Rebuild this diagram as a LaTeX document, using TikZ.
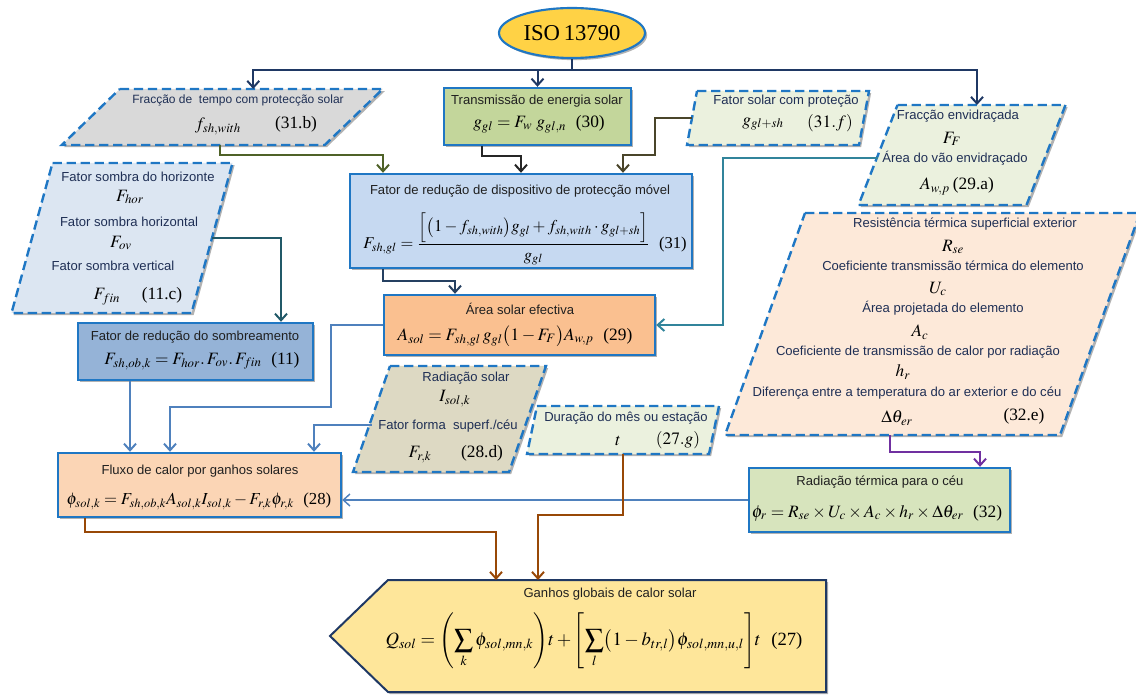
\documentclass[tikz,border=0pt]{standalone}
\usepackage{amsmath}
\usepackage{mathptmx}
\usepackage[no-math]{fontspec}
\setmainfont{Liberation Serif}
\setsansfont{Liberation Sans}
\usetikzlibrary{arrows.meta,shadows,shapes.geometric}

\definecolor{navyc}{HTML}{1F3864}
\definecolor{bdblue}{HTML}{1F77C4}
\definecolor{isofill}{HTML}{FFD245}
\definecolor{grayfill}{HTML}{D9D9D9}
\definecolor{greenfill}{HTML}{C3D69B}
\definecolor{palegreen}{HTML}{EBF1DE}
\definecolor{horfill}{HTML}{DCE6F2}
\definecolor{fatorfill}{HTML}{C6D9F1}
\definecolor{areafill}{HTML}{FAC090}
\definecolor{sombfill}{HTML}{95B3D7}
\definecolor{resfill}{HTML}{FDE9D9}
\definecolor{rsolfill}{HTML}{DDD9C3}
\definecolor{fluxfill}{HTML}{FBD5B5}
\definecolor{radtfill}{HTML}{D7E4BD}
\definecolor{botfill}{HTML}{FEE69A}
\definecolor{oliveline}{HTML}{4F6228}
\definecolor{darkline}{HTML}{262626}
\definecolor{khakiline}{HTML}{4A452A}
\definecolor{fatorline}{HTML}{254061}
\definecolor{tealline}{HTML}{31849B}
\definecolor{hortline}{HTML}{215968}
\definecolor{blueline}{HTML}{4F81BD}
\definecolor{purpleline}{HTML}{7030A0}
\definecolor{brownline}{HTML}{984807}
\definecolor{lblnavy}{HTML}{1F2F55}
\definecolor{lbldark}{HTML}{202020}

\tikzset{
  shadowed/.style={drop shadow={shadow xshift=1.6pt,shadow yshift=-1.6pt,opacity=.3,fill=black}},
  boxnode/.style={rectangle,draw=bdblue,line width=1.8pt,inner sep=0pt,shadowed},
  pgnode/.style={rectangle,inner sep=0pt,outer sep=0pt,draw=none},
  pgshape/.style={draw=bdblue,line width=1.8pt,dash pattern=on 7pt off 3.5pt,shadowed},
  lbl/.style={font=\sffamily\fontsize{9.8}{11}\selectfont,text=lblnavy,inner sep=0pt},
  lbld/.style={lbl,text=lbldark},
  eq/.style={font=\rmfamily\fontsize{13}{15}\selectfont,inner sep=0pt},
  conn/.style={line width=1.5pt},
  arr/.style={-{Straight Barb[length=5pt,width=9pt]}},
}

\newcommand\pgdraw[3]{%
  \path[pgshape,fill=#3]
   ([xshift=#2*0.75pt]#1.north west) -- ([xshift=#2*0.75pt]#1.north east)
   -- ([xshift=-#2*0.75pt]#1.south east) -- ([xshift=-#2*0.75pt]#1.south west) -- cycle;}

\begin{document}
\begin{tikzpicture}[x=0.75pt,y=-0.75pt]
\useasboundingbox (0,0) rectangle (1136,695);
\clip (0,0) rectangle (1136,695);

% ---------- shapes ----------
\node[ellipse,draw=bdblue,line width=1.6pt,fill=isofill,minimum width=146*.75pt,minimum height=50*.75pt,
      inner sep=0pt,shadowed,font=\rmfamily\fontsize{17}{19}\selectfont] (iso) at (572,33) {ISO\,13790};

\node[pgnode,minimum width=263*.75pt,minimum height=56*.75pt] (tempo) at (222.25,117) {};
\pgdraw{tempo}{29}{grayfill}
\node[boxnode,fill=greenfill,minimum width=187*.75pt,minimum height=57*.75pt] (trans) at (537.5,116.5) {};
\node[pgnode,minimum width=172*.75pt,minimum height=54*.75pt] (fsol) at (778,118) {};
\pgdraw{fsol}{5}{palegreen}
\node[pgnode,minimum width=168*.75pt,minimum height=100*.75pt] (fenv) at (962,155) {};
\pgdraw{fenv}{19.5}{palegreen}
\node[pgnode,minimum width=180*.75pt,minimum height=150*.75pt] (hor) at (122,238) {};
\pgdraw{hor}{20.5}{horfill}
\node[boxnode,fill=fatorfill,minimum width=342*.75pt,minimum height=94*.75pt] (fator) at (521,221) {};
\node[boxnode,fill=areafill,minimum width=271*.75pt,minimum height=60*.75pt] (area) at (519.5,325) {};
\node[boxnode,fill=sombfill,minimum width=235*.75pt,minimum height=57*.75pt] (somb) at (195.5,351.5) {};
\node[pgnode,minimum width=335*.75pt,minimum height=222*.75pt] (res) at (932.5,324) {};
\pgdraw{res}{40}{resfill}
\node[pgnode,minimum width=156*.75pt,minimum height=106*.75pt] (rsol) at (449.5,419) {};
\pgdraw{rsol}{18.5}{rsolfill}
\node[pgnode,minimum width=182*.75pt,minimum height=48*.75pt] (dur) at (623,430) {};
\pgdraw{dur}{5}{palegreen}
\node[boxnode,fill=fluxfill,minimum width=283*.75pt,minimum height=64*.75pt] (flux) at (199.5,485) {};
\node[boxnode,fill=radtfill,minimum width=261*.75pt,minimum height=64*.75pt] (radt) at (879.5,500) {};
\node[pgnode,minimum width=438*.75pt,minimum height=112*.75pt] (bot) at (607,636) {};
\coordinate (tip) at (330,636);
\path[draw=navyc,line width=1.5pt,fill=botfill,shadowed]
  (bot.north west) -- (bot.north east) -- (bot.south east) -- (bot.south west) -- (tip) -- cycle;

% ---------- texts ----------
\node[lbl,font=\sffamily\fontsize{9}{10}\selectfont] (tempo-a) at (238,100) {Fracção de\ \ tempo com protecção solar};
\node[eq] (tempo-b) at (218,126) {$f_{sh,with}$};
\node[eq] (tempo-c) at (296,124) {(31.b)};

\node[lbld] (trans-a) at (537,101) {Transmissão de energia solar};
\node[eq] (trans-b) at (539,124) {$g_{gl}=F_w\;g_{gl,n}$\;\;(30)};

\node[lbl] (fsol-a) at (786,101) {Fator solar com proteção};
\node[eq] (fsol-b) at (763,124) {$g_{gl+sh}$};
\node[eq] (fsol-c) at (830,123) {$(31.f)$};

\node[lbl] (fenv-a) at (958,116) {Fracção envidraçada};
\node[eq] (fenv-b) at (952,139) {$F_F$};
\node[lbl] (fenv-c) at (955,158) {Área do vão envidraçado};
\node[eq] (fenv-d) at (957,186) {$A_{w,p}$\,(29.a)};

\node[lbl] (hor-a) at (138,177) {Fator sombra do horizonte};
\node[eq] (hor-b) at (130,197) {$F_{hor}$};
\node[lbl] (hor-c) at (129,222) {Fator sombra horizontal};
\node[eq] (hor-d) at (121,243) {$F_{ov}$};
\node[lbl] (hor-e) at (113,266) {Fator sombra vertical};
\node[eq] (hor-f) at (107,297) {$F_{fin}$};
\node[eq] (hor-g) at (162,295) {(11.c)};

\node[lbld] (fator-a) at (520,191) {Fator de redução de dispositivo de protecção móvel};
\node[eq,font=\rmfamily\fontsize{12.4}{14}\selectfont] (fator-b) at (525,239) {$F_{sh,gl}=\dfrac{\Bigl[\bigl(1-f_{sh,with}\bigr)g_{gl}+f_{sh,with}\cdot g_{gl+sh}\Bigr]}{g_{gl}}$\;\;(31)};

\node[lbld] (area-a) at (520,309) {Área solar efectiva};
\node[eq] (area-b) at (515,336) {$A_{sol}=F_{sh,gl}\,g_{gl}\bigl(1-F_F\bigr)A_{w,p}$\;\;(29)};

\node[lbld] (somb-a) at (195,337) {Fator de redução do sombreamento};
\node[eq] (somb-b) at (202,361) {$F_{sh,ob,k}=F_{hor}.\,F_{ov}.\,F_{fin}$\;\;(11)};

\node[lbl] (res-a) at (965,224) {Resistência térmica superficial exterior};
\node[eq] (res-b) at (953,247) {$R_{se}$};
\node[lbl] (res-c) at (953,266) {Coeficiente transmissão térmica do elemento};
\node[eq] (res-d) at (938,289) {$U_c$};
\node[lbl] (res-e) at (943,308) {Área projetada do elemento};
\node[eq] (res-f) at (920,332) {$A_c$};
\node[lbl] (res-g) at (918,352) {Coeficiente de transmissão de calor por radiação};
\node[eq] (res-h) at (903,372) {$h_r$};
\node[lbl] (res-i) at (907,393) {Diferença entre a temperatura do ar exterior e do céu};
\node[eq] (res-j) at (897,418) {$\Delta\theta_{er}$};
\node[eq] (res-k) at (1024,416) {(32.e)};

\node[lbl] (rsol-a) at (466,378) {Radiação solar};
\node[eq] (rsol-b) at (455,399) {$I_{sol,k}$};
\node[lbl] (rsol-c) at (448,426) {Fator forma\ \ superf./céu};
\node[eq] (rsol-d) at (420,455) {$F_{r,k}$};
\node[eq] (rsol-e) at (482,453) {(28.d)};

\node[lbl] (dur-a) at (626,418) {Duração do mês ou estação};
\node[eq] (dur-b) at (618,441) {$t$};
\node[eq] (dur-c) at (678,440) {$(27.g)$};

\node[lbld] (flux-a) at (200,471) {Fluxo de calor por ganhos solares};
\node[eq,font=\rmfamily\fontsize{12.6}{14}\selectfont] (flux-b) at (199,501) {$\phi_{sol,k}=F_{sh,ob,k}A_{sol,k}I_{sol,k}-F_{r,k}\phi_{r,k}$\;\;(28)};

\node[lbld] (radt-a) at (880,482) {Radiação térmica para o céu};
\node[eq] (radt-b) at (877,513) {$\phi_r=R_{se}\times U_c\times A_c\times h_r\times\Delta\theta_{er}$\;\;(32)};

\node[lbld] (bot-a) at (610,594) {Ganhos globais de calor solar};
\node[eq,font=\rmfamily\fontsize{14}{16}\selectfont] (bot-b) at (594,641) {$\displaystyle Q_{sol}=\Biggl(\sum_k\phi_{sol,mn,k}\Biggr)t+\Biggl[\sum_l\bigl(1-b_{tr,l}\bigr)\phi_{sol,mn,u,l}\Biggr]t$\;\;(27)};

% ---------- connectors ----------
\coordinate (bus) at (572,70);
\draw[conn,navyc] (iso.south) -- (bus);
\draw[conn,navyc,arr] (bus) -| ([xshift=31*.75pt]tempo.north);
\draw[conn,navyc,arr] (bus) -| ([xshift=15*.75pt]fenv.north);
\draw[conn,navyc,arr] (bus -| trans.north) -- (trans.north);

\draw[conn,oliveline,arr] ([xshift=-2*.75pt]tempo.south) -- ++(0,10) -| ([xshift=-138*.75pt]fator.north);
\draw[conn,darkline,arr] ([xshift=-55.5*.75pt]trans.south) -- ++(0,10) -| (fator.north);
\draw[conn,khakiline,arr] (fsol.west) -- ++(-37,0) -- ++(0,37) -| ([xshift=102*.75pt]fator.north);
\draw[conn,fatorline,arr] ([xshift=34*.75pt]fator.south west) -- ++(0,12) -| ([xshift=-64.5*.75pt]area.north);
\draw[conn,tealline,arr] ([yshift=-3*.75pt]fenv.west) -- ++(-155,0) |- (area.east);
\draw[conn,hortline,arr] (hor.east) -| ([xshift=85.5*.75pt]somb.north);

\draw[conn,blueline,arr] ([xshift=-65.5*.75pt]somb.south) coordinate (s1) -- (s1 |- flux.north);
\draw[conn,blueline,arr] (area.west) -- ++(-52,0) -- ++(0,82) -| ([xshift=-29.5*.75pt]flux.north);
\draw[conn,blueline,arr] ([yshift=-6*.75pt]rsol.west) -| ([xshift=114.5*.75pt]flux.north);
\draw[line width=1.1pt,blueline,arr] (radt.west) -- (radt.west -| flux.east);

\draw[conn,purpleline,arr] ([xshift=-42.5*.75pt]res.south) -- ++(0,17) -| ([xshift=100.5*.75pt]radt.north);

\draw[conn,brownline,arr] ([xshift=-114.5*.75pt]flux.south) -- ++(0,14) -| ([xshift=-111*.75pt]bot.north);
\draw[conn,brownline,arr] (dur.south) -- ++(0,61) -| ([xshift=-69*.75pt]bot.north);
\end{tikzpicture}
\end{document}
